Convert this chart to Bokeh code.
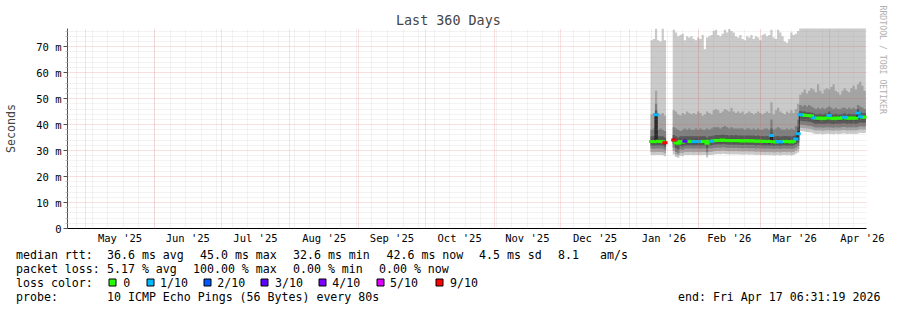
import pandas as pd
from bokeh.plotting import figure
from bokeh.layouts import column
from bokeh.models import Range1d, FixedTicker, Title
from bokeh.core.properties import value
from bokeh.embed import file_html
from bokeh.resources import INLINE

FONT = "DejaVu Sans Mono"

# ---------------- data (one value per day, from 2026-01-10 12:00) ----------------
DATA_START = "2026-01-10 12:00"
WINDOW_START = "2025-04-22 19:31:19"
WINDOW_END = "2026-04-17 19:31:19"

median = [33.5, 33.4, 43.8, 33.6, 33.5, 33.4, 33.0, None, None, None,
          34.1, 33.0, 32.8, 33.5, 33.2, 33.6, 33.5, 33.6, 33.5, 33.4,
          33.5, 33.5, 33.4, 33.5, 33.6, 32.8, 33.6, 33.6, 33.8, 33.9,
          34.0, 33.9, 34.1, 34.0, 33.9, 33.8, 33.9, 33.8, 33.9, 33.8,
          33.8, 33.7, 33.8, 33.8, 33.7, 33.8, 33.7, 33.6, 33.7, 33.6,
          33.6, 33.5, 33.6, 33.5, 35.8, 33.4, 33.3, 33.5, 33.3, 33.5,
          33.6, 33.4, 33.5, 33.3, 33.6, 34.5, 36.5, 43.8, 43.7, 43.6,
          43.5, 43.4, 43.3, 42.6, 42.4, 42.4, 42.5, 42.3, 42.4, 42.5,
          43.5, 42.4, 42.3, 42.5, 42.4, 42.4, 42.6, 42.8, 42.4, 42.5,
          42.4, 42.5, 42.4, 44.5, 43.0, 42.8, 42.8]

loss = [0, 0, 1, 0, 0, 0, 9, None, None, None,
        9, 0, 0, 0, 0, 3, 0, 0, 0, 1,
        0, 1, 0, 0, 0, 0, 0, 1, 0, 0,
        0, 0, 0, 0, 0, 0, 0, 0, 0, 0,
        0, 0, 0, 0, 0, 0, 0, 0, 0, 0,
        0, 0, 0, 0, 1, 0, 0, 1, 1, 0,
        0, 0, 0, 0, 0, 1, 1, 1, 0, 0,
        0, 0, 0, 1, 0, 0, 0, 0, 0, 0,
        1, 0, 0, 0, 0, 0, 0, 1, 0, 0,
        0, 0, 0, 1, 1, 0, 0]

ping10 = [72.5, 73.0, 77.0, 72.5, 72.0, 77.0, 72.5, None, None, None,
          76.5, 75.5, 74.0, 74.5, 75.0, 72.5, 74.0, 73.5, 74.0, 73.0,
          72.5, 73.5, 73.0, 74.5, 69.0, 73.5, 74.0, 74.5, 76.0, 76.5,
          74.5, 74.0, 75.0, 76.5, 75.5, 76.8, 76.0, 75.5, 74.0, 73.5,
          74.5, 73.0, 72.5, 74.0, 73.5, 74.5, 73.0, 74.0, 73.5, 72.5,
          74.5, 75.0, 74.0, 74.5, 76.5, 73.5, 73.0, 76.5, 75.5, 74.0,
          72.0, 71.5, 73.0, 75.5, 74.5, 75.0, 76.0, 80.0, 80.0, 80.0,
          80.0, 80.0, 80.0, 80.0, 80.0, 80.0, 80.0, 80.0, 80.0, 80.0,
          80.0, 80.0, 80.0, 80.0, 80.0, 80.0, 80.0, 80.0, 80.0, 80.0,
          80.0, 80.0, 80.0, 80.0, 80.0, 80.0, 80.0]

ping9 = [44.0, 44.5, 53.0, 44.5, 44.0, 44.5, 43.5, None, None, None,
         45.5, 45.0, 44.0, 43.5, 44.5, 44.0, 45.0, 44.5, 44.0, 44.5,
         44.0, 45.0, 44.5, 43.5, 44.0, 45.0, 44.5, 44.0, 45.5, 46.0,
         45.5, 44.5, 45.0, 46.0, 45.5, 45.0, 46.5, 45.0, 44.5, 45.0,
         44.5, 45.0, 44.0, 44.5, 45.0, 44.5, 44.0, 44.5, 45.0, 44.5,
         44.0, 44.5, 45.0, 44.5, 48.6, 44.0, 45.5, 46.5, 45.0, 44.5,
         44.0, 45.0, 44.5, 45.5, 44.5, 46.0, 48.0, 51.5, 52.5, 53.5,
         52.0, 53.0, 54.0, 53.5, 52.5, 55.5, 53.0, 52.0, 53.5, 54.0,
         53.5, 54.5, 55.5, 53.0, 52.5, 51.5, 53.0, 54.0, 53.0, 52.5,
         54.0, 55.0, 53.5, 55.5, 56.5, 55.0, 53.0]

ping8 = [38.0, 38.5, 48.0, 38.0, 38.5, 38.0, 37.5, None, None, None,
         39.0, 38.5, 38.0, 37.5, 38.0, 38.5, 38.0, 38.5, 38.0, 38.0,
         38.5, 38.0, 38.5, 38.0, 38.0, 38.5, 38.0, 38.5, 39.0, 39.0,
         39.0, 38.5, 39.0, 39.5, 39.0, 38.5, 39.0, 38.5, 38.5, 38.5,
         38.5, 38.5, 38.0, 38.5, 38.5, 38.0, 38.5, 38.0, 38.5, 38.0,
         38.0, 38.5, 38.5, 38.0, 42.0, 38.0, 38.5, 39.0, 38.5, 38.0,
         38.0, 38.5, 38.0, 38.5, 38.0, 39.5, 42.0, 47.5, 47.0, 47.5,
         47.0, 47.5, 47.0, 46.5, 46.0, 46.5, 46.0, 46.5, 46.0, 46.5,
         47.0, 46.5, 46.0, 46.5, 46.0, 46.0, 46.5, 46.5, 46.0, 46.5,
         46.0, 46.5, 46.0, 47.5, 47.0, 46.5, 46.0]

ping7 = [35.5, 35.5, 45.5, 35.5, 35.5, 35.5, 35.0, None, None, None,
         36.0, 35.5, 35.0, 35.5, 35.5, 35.5, 35.5, 35.5, 35.5, 35.5,
         35.5, 35.5, 35.5, 35.5, 35.5, 35.0, 35.5, 35.5, 35.8, 36.0,
         36.0, 36.0, 36.2, 36.0, 36.0, 35.8, 36.0, 35.8, 36.0, 35.8,
         35.8, 35.8, 35.8, 35.8, 35.8, 35.8, 35.8, 35.6, 35.8, 35.6,
         35.6, 35.5, 35.6, 35.5, 38.5, 35.4, 35.5, 35.6, 35.4, 35.5,
         35.6, 35.5, 35.5, 35.4, 35.6, 36.5, 39.0, 45.2, 45.0, 45.0,
         44.8, 44.8, 44.6, 44.4, 44.0, 44.0, 44.2, 44.0, 44.2, 44.2,
         45.0, 44.2, 44.0, 44.2, 44.0, 44.0, 44.2, 44.4, 44.0, 44.2,
         44.0, 44.2, 44.0, 46.0, 44.8, 44.5, 44.5]

ping6 = [34.2, 34.1, 44.2, 34.3, 34.2, 34.1, 33.8, None, None, None,
         34.8, 33.8, 33.6, 34.2, 34.0, 34.3, 34.2, 34.3, 34.2, 34.1,
         34.2, 34.2, 34.1, 34.2, 34.3, 33.6, 34.3, 34.3, 34.5, 34.6,
         34.7, 34.6, 34.8, 34.7, 34.6, 34.5, 34.6, 34.5, 34.6, 34.5,
         34.5, 34.4, 34.5, 34.5, 34.4, 34.5, 34.4, 34.3, 34.4, 34.3,
         34.3, 34.2, 34.3, 34.1, 36.5, 34.0, 34.1, 34.2, 34.0, 34.2,
         34.3, 34.1, 34.2, 34.0, 34.3, 35.2, 37.5, 44.5, 44.4, 44.3,
         44.2, 44.1, 44.0, 43.3, 43.1, 43.1, 43.2, 43.0, 43.1, 43.2,
         44.2, 43.1, 43.0, 43.2, 43.1, 43.1, 43.3, 43.5, 43.1, 43.2,
         43.1, 43.2, 43.1, 45.2, 43.7, 43.5, 43.5]

ping5 = [32.8, 32.7, 33.0, 32.9, 32.8, 32.7, 32.3, None, None, None,
         33.4, 32.3, 32.1, 32.8, 32.5, 32.9, 32.8, 32.9, 32.8, 32.7,
         32.8, 32.8, 32.7, 32.8, 32.9, 32.1, 32.9, 32.9, 33.1, 33.2,
         33.3, 33.2, 33.4, 33.3, 33.2, 33.1, 33.2, 33.1, 33.2, 33.1,
         33.1, 33.0, 33.1, 33.1, 33.0, 33.1, 33.0, 32.9, 33.0, 32.9,
         32.9, 32.8, 32.9, 32.7, 33.0, 32.6, 32.7, 32.8, 32.6, 32.8,
         32.9, 32.7, 32.8, 32.6, 32.9, 33.5, 34.0, 43.0, 42.9, 42.8,
         42.7, 42.6, 42.5, 41.9, 41.7, 41.7, 41.8, 41.6, 41.7, 41.8,
         41.8, 41.7, 41.6, 41.8, 41.7, 41.7, 41.9, 42.0, 41.7, 41.8,
         41.7, 41.8, 41.7, 42.0, 42.2, 42.1, 42.1]

ping4 = [32.0, 31.9, 32.0, 32.0, 32.0, 31.9, 31.5, None, None, None,
         32.5, 31.0, 30.5, 31.8, 31.5, 32.0, 32.0, 32.0, 32.0, 31.9,
         32.0, 32.0, 31.9, 32.0, 32.0, 31.0, 32.0, 32.0, 32.2, 32.3,
         32.4, 32.3, 32.5, 32.4, 32.3, 32.2, 32.3, 32.2, 32.3, 32.2,
         32.2, 32.1, 32.2, 32.2, 32.1, 32.2, 32.1, 32.0, 32.1, 32.0,
         32.0, 31.9, 32.0, 31.9, 32.0, 31.8, 31.9, 32.0, 31.8, 32.0,
         32.0, 31.9, 32.0, 31.8, 32.0, 32.5, 33.0, 41.5, 41.4, 41.3,
         41.2, 41.1, 41.0, 40.5, 40.3, 40.3, 40.4, 40.2, 40.3, 40.4,
         40.4, 40.3, 40.2, 40.4, 40.3, 40.3, 40.5, 40.5, 40.3, 40.4,
         40.3, 40.4, 40.3, 40.5, 40.8, 40.7, 40.7]

ping3 = [30.8, 30.7, 30.8, 30.8, 30.8, 30.7, 30.3, None, None, None,
         31.2, 29.5, 29.0, 30.5, 30.2, 30.8, 30.8, 30.8, 30.8, 30.7,
         30.8, 30.8, 30.7, 30.8, 30.8, 29.5, 30.8, 30.8, 31.0, 31.1,
         31.2, 31.1, 31.3, 31.2, 31.1, 31.0, 31.1, 31.0, 31.1, 31.0,
         31.0, 30.9, 31.0, 31.0, 30.9, 31.0, 30.9, 30.8, 30.9, 30.8,
         30.8, 30.7, 30.8, 30.7, 30.8, 30.6, 30.7, 30.8, 30.6, 30.8,
         30.8, 30.7, 30.8, 30.6, 30.8, 31.2, 31.8, 40.0, 39.9, 39.8,
         39.7, 39.6, 39.5, 39.1, 38.9, 38.9, 39.0, 38.8, 38.9, 39.0,
         39.0, 38.9, 38.8, 39.0, 38.9, 38.9, 39.1, 39.1, 38.9, 39.0,
         38.9, 39.0, 38.9, 39.1, 39.4, 39.3, 39.3]

ping2 = [29.5, 29.4, 29.5, 29.5, 29.5, 29.4, 29.0, None, None, None,
         29.8, 28.5, 28.2, 29.2, 29.0, 29.5, 29.5, 29.5, 29.5, 29.4,
         29.5, 29.5, 29.4, 29.5, 29.5, 28.4, 29.5, 29.5, 29.7, 29.8,
         29.9, 29.8, 30.0, 29.9, 29.8, 29.7, 29.8, 29.7, 29.8, 29.7,
         29.7, 29.6, 29.7, 29.7, 29.6, 29.7, 29.6, 29.5, 29.6, 29.5,
         29.5, 29.4, 29.5, 29.4, 29.5, 29.3, 29.4, 29.5, 29.3, 29.5,
         29.5, 29.4, 29.5, 29.3, 29.5, 30.0, 30.5, 38.8, 38.7, 38.6,
         38.5, 38.4, 38.3, 37.9, 37.7, 37.7, 37.8, 37.6, 37.7, 37.8,
         37.8, 37.7, 37.6, 37.8, 37.7, 37.7, 37.9, 37.9, 37.7, 37.8,
         37.7, 37.8, 37.7, 37.9, 38.2, 38.1, 38.1]

ping1 = [28.3, 28.2, 28.3, 28.3, 28.3, 28.2, 27.8, None, None, None,
         28.5, 27.5, 27.2, 28.0, 27.8, 28.3, 28.3, 28.3, 28.3, 28.2,
         28.3, 28.3, 28.2, 28.3, 28.3, 27.3, 28.3, 28.3, 28.5, 28.6,
         28.7, 28.6, 28.8, 28.7, 28.6, 28.5, 28.6, 28.5, 28.6, 28.5,
         28.5, 28.4, 28.5, 28.5, 28.4, 28.5, 28.4, 28.3, 28.4, 28.3,
         28.3, 28.2, 28.3, 28.2, 28.3, 28.1, 28.2, 28.3, 28.1, 28.3,
         28.3, 28.2, 28.3, 28.1, 28.3, 28.8, 29.3, 37.5, 37.4, 37.3,
         37.2, 37.1, 37.0, 36.6, 36.4, 36.4, 36.5, 36.3, 36.4, 36.5,
         36.5, 36.4, 36.3, 36.5, 36.4, 36.4, 36.6, 36.6, 36.4, 36.5,
         36.4, 36.5, 36.4, 36.6, 36.9, 36.8, 36.8]

LOSS_KEYS = [0, 1, 2, 3, 4, 5, 9]
LOSS_LABELS = ["0", "1/10", "2/10", "3/10", "4/10", "5/10", "9/10"]
LOSS_COLORS = ["#26ff00", "#00b8ff", "#0059ff", "#5e00ff", "#7e00ff", "#dd00ff", "#ff0000"]

MONTH_LABELS = ["May '25", "Jun '25", "Jul '25", "Aug '25", "Sep '25", "Oct '25",
                "Nov '25", "Dec '25", "Jan '26", "Feb '26", "Mar '26", "Apr '26"]
Y_TICKS = [0, 10, 20, 30, 40, 50, 60, 70]
Y_LABELS = ["0", "10 m", "20 m", "30 m", "40 m", "50 m", "60 m", "70 m"]
Y_MINOR = [2, 4, 6, 8, 12, 14, 16, 18, 22, 24, 26, 28, 32, 34, 36, 38,
           42, 44, 46, 48, 52, 54, 56, 58, 62, 64, 66, 68, 72, 74, 76]

LEGEND_ROWS = [
    [(15.5, "median rtt:"), (106.5, "36.6 ms avg"), (199.5, "45.0 ms max"), (292.5, "32.6 ms min"),
     (386.0, "42.6 ms now"), (478.5, "4.5 ms sd"), (557.5, "8.1"), (599.5, "am/s")],
    [(15.5, "packet loss:"), (106.5, "5.17 % avg"), (192.5, "100.00 % max"), (292.5, "0.00 % min"),
     (378.5, "0.00 % now")],
    [(15.5, "loss color:")],
    [(15.5, "probe:"), (106.5, "10 ICMP Echo Pings (56 Bytes) every 80s"),
     (677.5, "end: Fri Apr 17 06:31:19 2026")],
]

SMOKE_COLORS = ["#cacaca", "#a4a4a4", "#7e7e7e", "#585858", "#323232"]

# ---------------- helpers ----------------
def ms(ts):
    return int(pd.Timestamp(ts).value // 10**6)

DAY = 86400000
W0, W1 = ms(WINDOW_START), ms(WINDOW_END)
t0 = ms(DATA_START)
n = len(median)
left_edges = [t0 + k * DAY for k in range(n)]

runs, cur = [], []
for k in range(n):
    if median[k] is None:
        if cur:
            runs.append(cur)
        cur = []
    else:
        cur.append(k)
if cur:
    runs.append(cur)

def stepped(idx, vals):
    xs, ys = [], []
    for k in idx:
        xs += [left_edges[k], left_edges[k] + DAY]
        ys += [vals[k], vals[k]]
    return xs, ys

month_bounds = [ms(d) for d in pd.date_range("2025-05-01", "2026-04-01", freq="MS")]
month_mid = [(a + b) / 2 for a, b in zip(month_bounds, month_bounds[1:] + [ms("2026-05-01")])]
weeks = [ms(d) for d in pd.date_range("2025-04-27", "2026-04-13", freq="7D")]

# ---------------- main figure ----------------
MAIN_H = 246
p = figure(width=897, height=MAIN_H, output_backend="svg", toolbar_location=None,
           x_range=Range1d(W0, W1), y_range=Range1d(0, 77),
           min_border_left=67, min_border_right=30, min_border_top=28, min_border_bottom=18)
p.outline_line_color = None
p.background_fill_color = "white"
p.border_fill_color = "white"

p.title.text = "Last 360 Days"
p.title.align = "left"
p.title.offset = 328.5
p.title.text_font = FONT
p.title.text_font_size = "13.4px"
p.title.text_font_style = "normal"
p.title.standoff = 2

p.add_layout(Title(text="RRDTOOL / TOBI OETIKER", align="left", text_font=FONT,
                   text_font_size="8.2px", text_font_style="normal", text_color="#b0b0b0",
                   offset=-23, standoff=19, vertical_align="top"), "right")

# smoke bands
lows = [ping1, ping2, ping3, ping4, ping5]
highs = [ping10, ping9, ping8, ping7, ping6]
for lo, hi, col in zip(lows, highs, SMOKE_COLORS):
    for r in runs:
        xs, y1 = stepped(r, lo)
        _, y2 = stepped(r, hi)
        p.varea(x=xs, y1=y1, y2=y2, fill_color=col)

# median line
for r in runs:
    xs, ys = stepped(r, median)
    p.line(xs, ys, line_color="#202020", line_width=1)

# loss colored median marks
cmap = dict(zip(LOSS_KEYS, LOSS_COLORS))
sx0, sx1, sy, sc = [], [], [], []
for k in range(n):
    if median[k] is None:
        continue
    sx0.append(left_edges[k]); sx1.append(left_edges[k] + DAY)
    sy.append(median[k]); sc.append(cmap[loss[k]])
order = sorted(range(len(sc)), key=lambda i: sc[i] != LOSS_COLORS[0])  # coloured loss marks on top
p.segment(x0=[sx0[i] for i in order], x1=[sx1[i] for i in order],
          y0=[sy[i] for i in order], y1=[sy[i] for i in order],
          line_color=[sc[i] for i in order], line_width=3, line_cap="square")

# axes
p.xaxis.ticker = FixedTicker(ticks=month_mid)
p.xaxis.major_label_overrides = {m: lab for m, lab in zip(month_mid, MONTH_LABELS)}
p.xaxis.major_tick_line_color = None
p.xaxis.minor_tick_line_color = None
p.xaxis.major_tick_out = 0
p.xaxis.major_tick_in = 0
p.xaxis.minor_tick_out = 0
p.xaxis.minor_tick_in = 0
p.xaxis.major_label_standoff = 3
p.xaxis.axis_line_color = "black"
p.yaxis.ticker = FixedTicker(ticks=Y_TICKS, minor_ticks=Y_MINOR)
p.yaxis.major_label_overrides = {t: lab for t, lab in zip(Y_TICKS, Y_LABELS)}
p.yaxis.major_tick_out = 4
p.yaxis.major_tick_in = 0
p.yaxis.minor_tick_out = 2
p.yaxis.minor_tick_in = 0
p.yaxis.major_label_standoff = 2
p.yaxis.axis_line_color = "#505050"
p.yaxis.major_tick_line_color = "#505050"
p.yaxis.minor_tick_line_color = "#c0c0c0"
p.yaxis.axis_label = "Seconds"
p.yaxis.axis_label_text_font = FONT
p.yaxis.axis_label_text_font_size = "11.6px"
p.yaxis.axis_label_text_font_style = "normal"
p.yaxis.axis_label_standoff = 15
for ax in (p.xaxis, p.yaxis):
    ax.major_label_text_font = FONT
    ax.major_label_text_font_size = "10.5px"
    ax.major_label_text_color = "black"

# grid (drawn over the smoke, like rrdtool)
p.xgrid.ticker = FixedTicker(ticks=month_bounds, minor_ticks=weeks)
for g in (p.xgrid, p.ygrid):
    g.grid_line_color = "#e04848"
    g.grid_line_alpha = 0.33
    g.grid_line_dash = "1 1"
    g.minor_grid_line_color = "#9a9a9a"
    g.minor_grid_line_alpha = 0.24
    g.minor_grid_line_dash = "1 1"
    g.level = "annotation"

# ---------------- legend block (pixel-like coordinates, y downward) ----------------
LEG_H = 310 - MAIN_H
q = figure(width=897, height=LEG_H, output_backend="svg", toolbar_location=None,
           x_range=Range1d(0, 897), y_range=Range1d(LEG_H, 0),
           x_axis_location=None, y_axis_location=None,
           min_border=0, min_border_left=0, min_border_right=0, min_border_top=0, min_border_bottom=0)
q.outline_line_color = None
q.grid.visible = False
q.background_fill_color = "white"
q.border_fill_color = "white"

for fig in (p, q):
    try:
        fig.frame_align = False
    except Exception:
        pass

row_y = [254 - MAIN_H, 268 - MAIN_H, 282 - MAIN_H, 296 - MAIN_H]
tx, ty, tt = [], [], []
for ry, row in zip(row_y, LEGEND_ROWS):
    for x, t in row:
        tx.append(x); ty.append(ry); tt.append(t)
box_x = [108.5, 146.5, 203.5, 260.5, 318.5, 376.5, 435.5]
lab_x = [122.8, 159.5, 216.8, 274.5, 331.8, 389.5, 449.5]
for lx, lab in zip(lab_x, LOSS_LABELS):
    tx.append(lx); ty.append(row_y[2]); tt.append(lab)
q.text(x=tx, y=ty, text=tt, text_font=value(FONT), text_font_size=value("11.6px"),
       text_baseline="middle", text_align="left", text_color="black")
q.quad(left=box_x, right=[b + 7 for b in box_x], top=[row_y[2] - 3.5] * 7, bottom=[row_y[2] + 3.5] * 7,
       fill_color=LOSS_COLORS, line_color="black", line_width=1)

layout = column(p, q, spacing=0)
with open("out.html", "w") as f:
    f.write(file_html(layout, INLINE))
